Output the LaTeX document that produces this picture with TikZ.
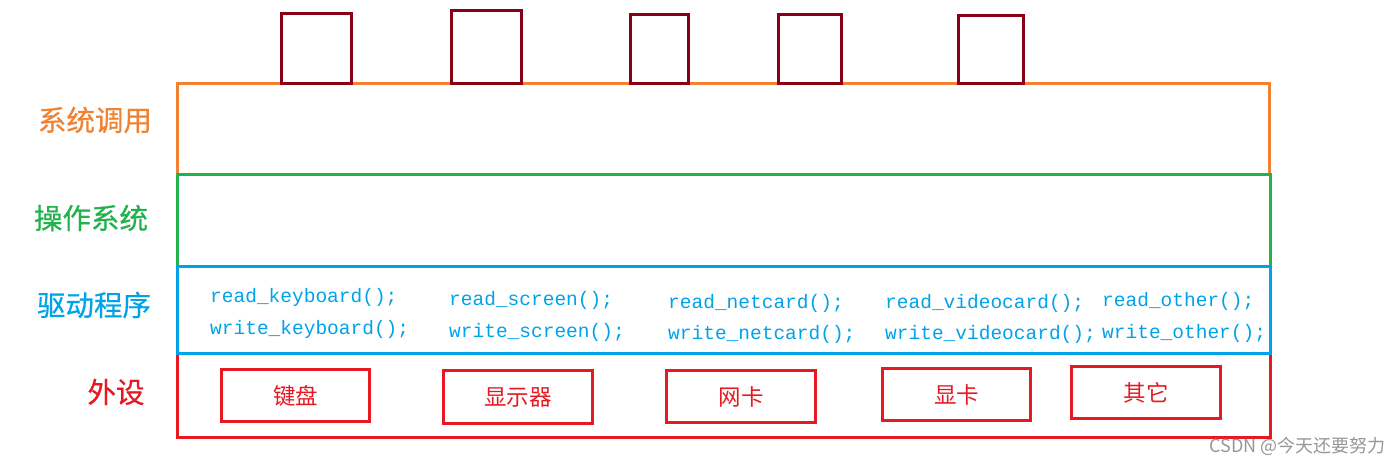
\documentclass[tikz,border=0pt]{standalone}
\usepackage{fontspec}
\newfontfamily\cjk{Noto Sans CJK SC}
\newfontfamily\cjkbold[FakeBold=0.6]{Noto Sans CJK SC}
\newfontfamily\codefont{Liberation Mono}
\definecolor{sysorange}{RGB}{240,130,50}
\definecolor{osgreen}{RGB}{34,177,76}
\definecolor{drvblue}{RGB}{0,162,232}
\definecolor{devred}{RGB}{230,25,35}
\definecolor{darkred}{RGB}{136,0,21}
\definecolor{wmgray}{RGB}{150,150,150}
\tikzset{
  layer/.style={draw, line width=3pt, inner sep=0pt, anchor=north west},
  topbox/.style={draw=darkred, line width=3pt, inner sep=0pt, anchor=north west},
  devbox/.style={draw=devred, line width=3pt, inner sep=0pt, anchor=north west, text=devred, font=\cjk\fontsize{22.5}{26}\selectfont},
  label/.style={font=\cjkbold\fontsize{28.5}{32}\selectfont, anchor=center},
  code/.style={text=drvblue, font=\codefont\fontsize{19.5}{22}\selectfont, anchor=base west, inner sep=0pt},
}
\begin{document}
\begin{tikzpicture}[x=1pt,y=-1pt]
\useasboundingbox (0,0) rectangle (1400,465);
% layers
\node[layer, draw=sysorange, minimum width=1092pt, minimum height=91pt] (sys) at (176,82) {};
\node[layer, draw=osgreen, minimum width=1093pt, minimum height=92pt] (os) at (176,173) {};
\node[layer, draw=devred, minimum width=1093pt, minimum height=84pt] (dev) at (176,352) {};
\node[layer, draw=drvblue, minimum width=1093pt, minimum height=87pt] (drv) at (176,265) {};
% top boxes
\node[topbox, minimum width=70pt, minimum height=70pt] (t1) at (280,12) {};
\node[topbox, minimum width=70pt, minimum height=73pt] (t2) at (450,9) {};
\node[topbox, minimum width=58pt, minimum height=69pt] (t3) at (629,13) {};
\node[topbox, minimum width=63pt, minimum height=69pt] (t4) at (777,13) {};
\node[topbox, minimum width=65pt, minimum height=68pt] (t5) at (957,14) {};
% labels
\node[label, text=sysorange] (lsys) at (95,120) {系统调用};
\node[label, text=osgreen] (los) at (91,218) {操作系统};
\node[label, text=drvblue] (ldrv) at (94,305) {驱动程序};
\node[label, text=devred] (ldev) at (116,392) {外设};
% driver functions
\node[code] (r1) at (210,302) {read\_keyboard();};
\node[code] (w1) at (210,334) {write\_keyboard();};
\node[code] (r2) at (449,305) {read\_screen();};
\node[code] (w2) at (449,337) {write\_screen();};
\node[code] (r3) at (668,308) {read\_netcard();};
\node[code] (w3) at (668,339) {write\_netcard();};
\node[code] (r4) at (885,308) {read\_videocard();};
\node[code] (w4) at (885,339) {write\_videocard();};
\node[code] (r5) at (1102,306) {read\_other();};
\node[code] (w5) at (1102,338) {write\_other();};
% devices
\node[devbox, minimum width=148pt, minimum height=52pt] (d1) at (220,368) {键盘};
\node[devbox, minimum width=149pt, minimum height=53pt] (d2) at (442,369) {显示器};
\node[devbox, minimum width=149pt, minimum height=52pt] (d3) at (665,369) {网卡};
\node[devbox, minimum width=148pt, minimum height=52pt] (d4) at (881,367) {显卡};
\node[devbox, minimum width=149pt, minimum height=52pt] (d5) at (1070,365) {其它};
% watermark
\node[text=wmgray, font=\cjk\fontsize{18}{20}\selectfont, anchor=east] (wm) at (1389,446) {CSDN @今天还要努力};
\end{tikzpicture}
\end{document}
